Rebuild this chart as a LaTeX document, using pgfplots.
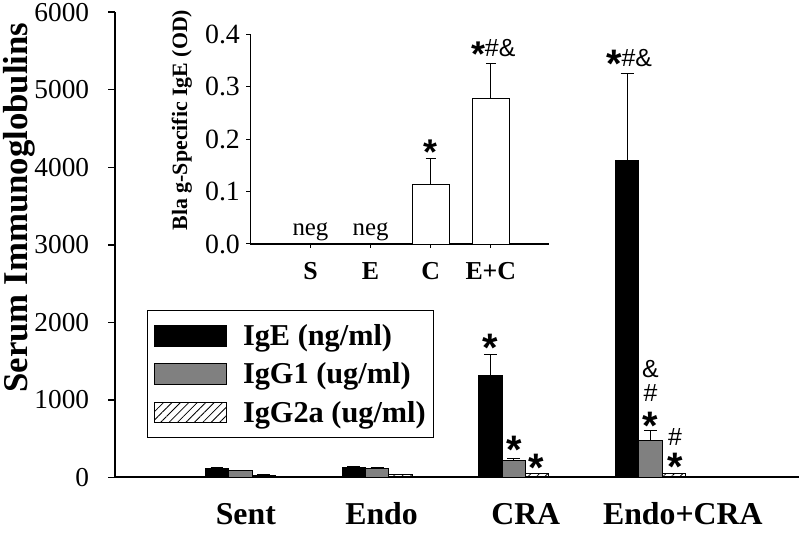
\documentclass[border=0pt]{standalone}
\usepackage{fontspec}
\setmainfont{Liberation Serif}
\newfontfamily\annfont{Liberation Sans}
\usepackage{pgfplots}
\pgfplotsset{compat=1.18}
\usetikzlibrary{patterns.meta}

\newcommand{\fs}[1]{\fontsize{#1}{#1}\selectfont}
\newcommand{\st}{{\annfont\fs{40}\bfseries *}}
\newcommand{\sy}[1]{{\annfont\fs{25}#1}}

\begin{document}
\begin{tikzpicture}
\begin{axis}[
  scale only axis, width=688pt, height=468pt,
  xmin=0.084, xmax=5.087, ymin=0, ymax=6000,
  clip=false,
  axis lines=left, axis line style={-, line width=2pt},
  ytick={0,1000,2000,3000,4000,5000,6000},
  tick align=outside, major tick length=7pt,
  y tick style={line width=1.5pt, black},
  xtick=\empty,
  yticklabel style={font=\fs{27.5}, anchor=east, inner xsep=0pt, inner ysep=3pt, xshift=-19pt},
  /pgf/number format/assume math mode=true,
  /pgf/number format/1000 sep={},
  scaled y ticks=false,
  ylabel={Serum Immunoglobulins},
  ylabel style={font=\fs{35}\bfseries, at={(axis description cs:-0.1403,0.58)}, anchor=center},
  ybar, bar width=23.5pt,
  legend style={at={(axis description cs:0.047,0.0844)}, anchor=south west,
    draw=black, line width=1pt, fill=white, font=\fs{30.5}\bfseries,
    nodes={inner sep=2pt}, row sep=12pt, column sep=14pt,
    inner xsep=6pt, inner ysep=12pt, cells={anchor=west}},
  legend image code/.code={\draw[#1,/tikz/.cd,line width=0.8pt] (0pt,-10.5pt) rectangle (73pt,10.5pt);},
  error bars/y dir=plus, error bars/y explicit,
  error bars/error bar style={line width=1pt, black},
  error bars/error mark options={rotate=90, line width=1pt, black, mark size=6.5pt},
]
\addplot[fill=black, draw=black, line width=0.8pt, bar shift=-23.5pt] coordinates {
(1,118) +- (0,15)
(2,126) +- (0,18)
(3,1310) +- (0,270)
(4,4090) +- (0,1120)
};
\addplot[fill=gray, draw=black, line width=0.8pt, bar shift=0pt] coordinates {
(1,84) +- (0,6)
(2,120) +- (0,8)
(3,221) +- (0,25)
(4,477) +- (0,128)
};
\addplot[fill=white, draw=black, line width=0.8pt, bar shift=23.5pt,
  pattern={Lines[angle=45,distance=6pt,line width=0.8pt]}] coordinates {
(1,28) +- (0,3)
(2,38) +- (0,4)
(3,49) +- (0,5)
(4,49) +- (0,5)
};
\legend{IgE (ng/ml),IgG1 (ug/ml),IgG2a (ug/ml)}
% category names
\node[anchor=base, yshift=-47pt, inner xsep=1pt, inner ysep=8pt, font=\fs{32}\bfseries] at (axis cs:1.04,0) {Sent};
\node[anchor=base, yshift=-47pt, inner xsep=1pt, inner ysep=8pt, font=\fs{32}\bfseries] at (axis cs:2.033,0) {Endo};
\node[anchor=base, yshift=-47pt, inner xsep=1pt, inner ysep=8pt, font=\fs{32}\bfseries] at (axis cs:3.088,0) {CRA};
\node[anchor=base, yshift=-47pt, inner xsep=1pt, inner ysep=8pt, font=\fs{32}\bfseries] at (axis cs:4.237,0) {Endo+CRA};
% significance marks
\node[anchor=north, inner sep=0pt] at (axis cs:2.829,1850) {\st};
\node[anchor=north, inner sep=0pt] at (axis cs:3.0,532) {\st};
\node[anchor=north, inner sep=0pt] at (axis cs:3.167,301) {\st};
\node[anchor=north, inner sep=0pt] at (axis cs:4.0,840) {\st};
\node[anchor=north, inner sep=0pt] at (axis cs:4.0,1203) {\sy{\#}};
\node[anchor=north, inner sep=0pt] at (axis cs:4.0,1519) {\sy{\&}};
\node[anchor=north, inner sep=0pt] at (axis cs:4.18,314) {\st};
\node[anchor=north, inner sep=0pt] at (axis cs:4.18,635) {\sy{\#}};
\node[anchor=north, inner sep=0pt] at (axis cs:3.844,5520) {\st\raisebox{11pt}{\sy{\#\&}}};
\end{axis}
\begin{axis}[
  at={(136pt,234.8pt)}, anchor=south west,
  scale only axis, width=300pt, height=211pt,
  xmin=0, xmax=4.96, ymin=0, ymax=0.4,
  axis lines=left, axis line style={-},
  x axis line style={line width=2pt}, y axis line style={line width=1pt},
  ytick={0,0.1,0.2,0.3,0.4},
  yticklabel style={/pgf/number format/.cd, fixed, fixed zerofill, precision=1, assume math mode=true, /tikz/.cd, font=\fs{28}, xshift=-3pt},
  xtick={1,2,3,4}, xticklabels={S,E,C,E+C},
  xticklabel style={font=\fs{26}\bfseries, anchor=north, inner sep=0pt, yshift=-14pt},
  tick align=outside, major tick length=4pt, tick style={line width=1pt, black},
  ylabel={Bla g-Specific IgE (OD)},
  ylabel style={font=\fs{22}\bfseries, at={(axis description cs:-0.23,0.591)}, anchor=center},
  ybar, bar width=37pt,
  error bars/y dir=plus, error bars/y explicit,
  error bars/error bar style={line width=0.8pt, black},
  error bars/error mark options={rotate=90, line width=0.8pt, black, mark size=5pt},
]
\addplot[fill=white, draw=black, line width=0.8pt] coordinates {
(3,0.1137) +- (0,0.050)
(4,0.2775) +- (0,0.066)
};
\node[anchor=base, font=\fs{25}] at (axis cs:1,0.0165) {neg};
\node[anchor=base, font=\fs{25}] at (axis cs:2,0.0165) {neg};
\node[anchor=north, inner sep=0pt] at (axis cs:3,0.1985) {{\annfont\fs{36}\bfseries *}};
\node[anchor=north, inner sep=0pt] at (axis cs:4.04,0.39) {{\annfont\fs{36}\bfseries *}\raisebox{10pt}{\sy{\#\&}}};
\end{axis}
\end{tikzpicture}
\end{document}
